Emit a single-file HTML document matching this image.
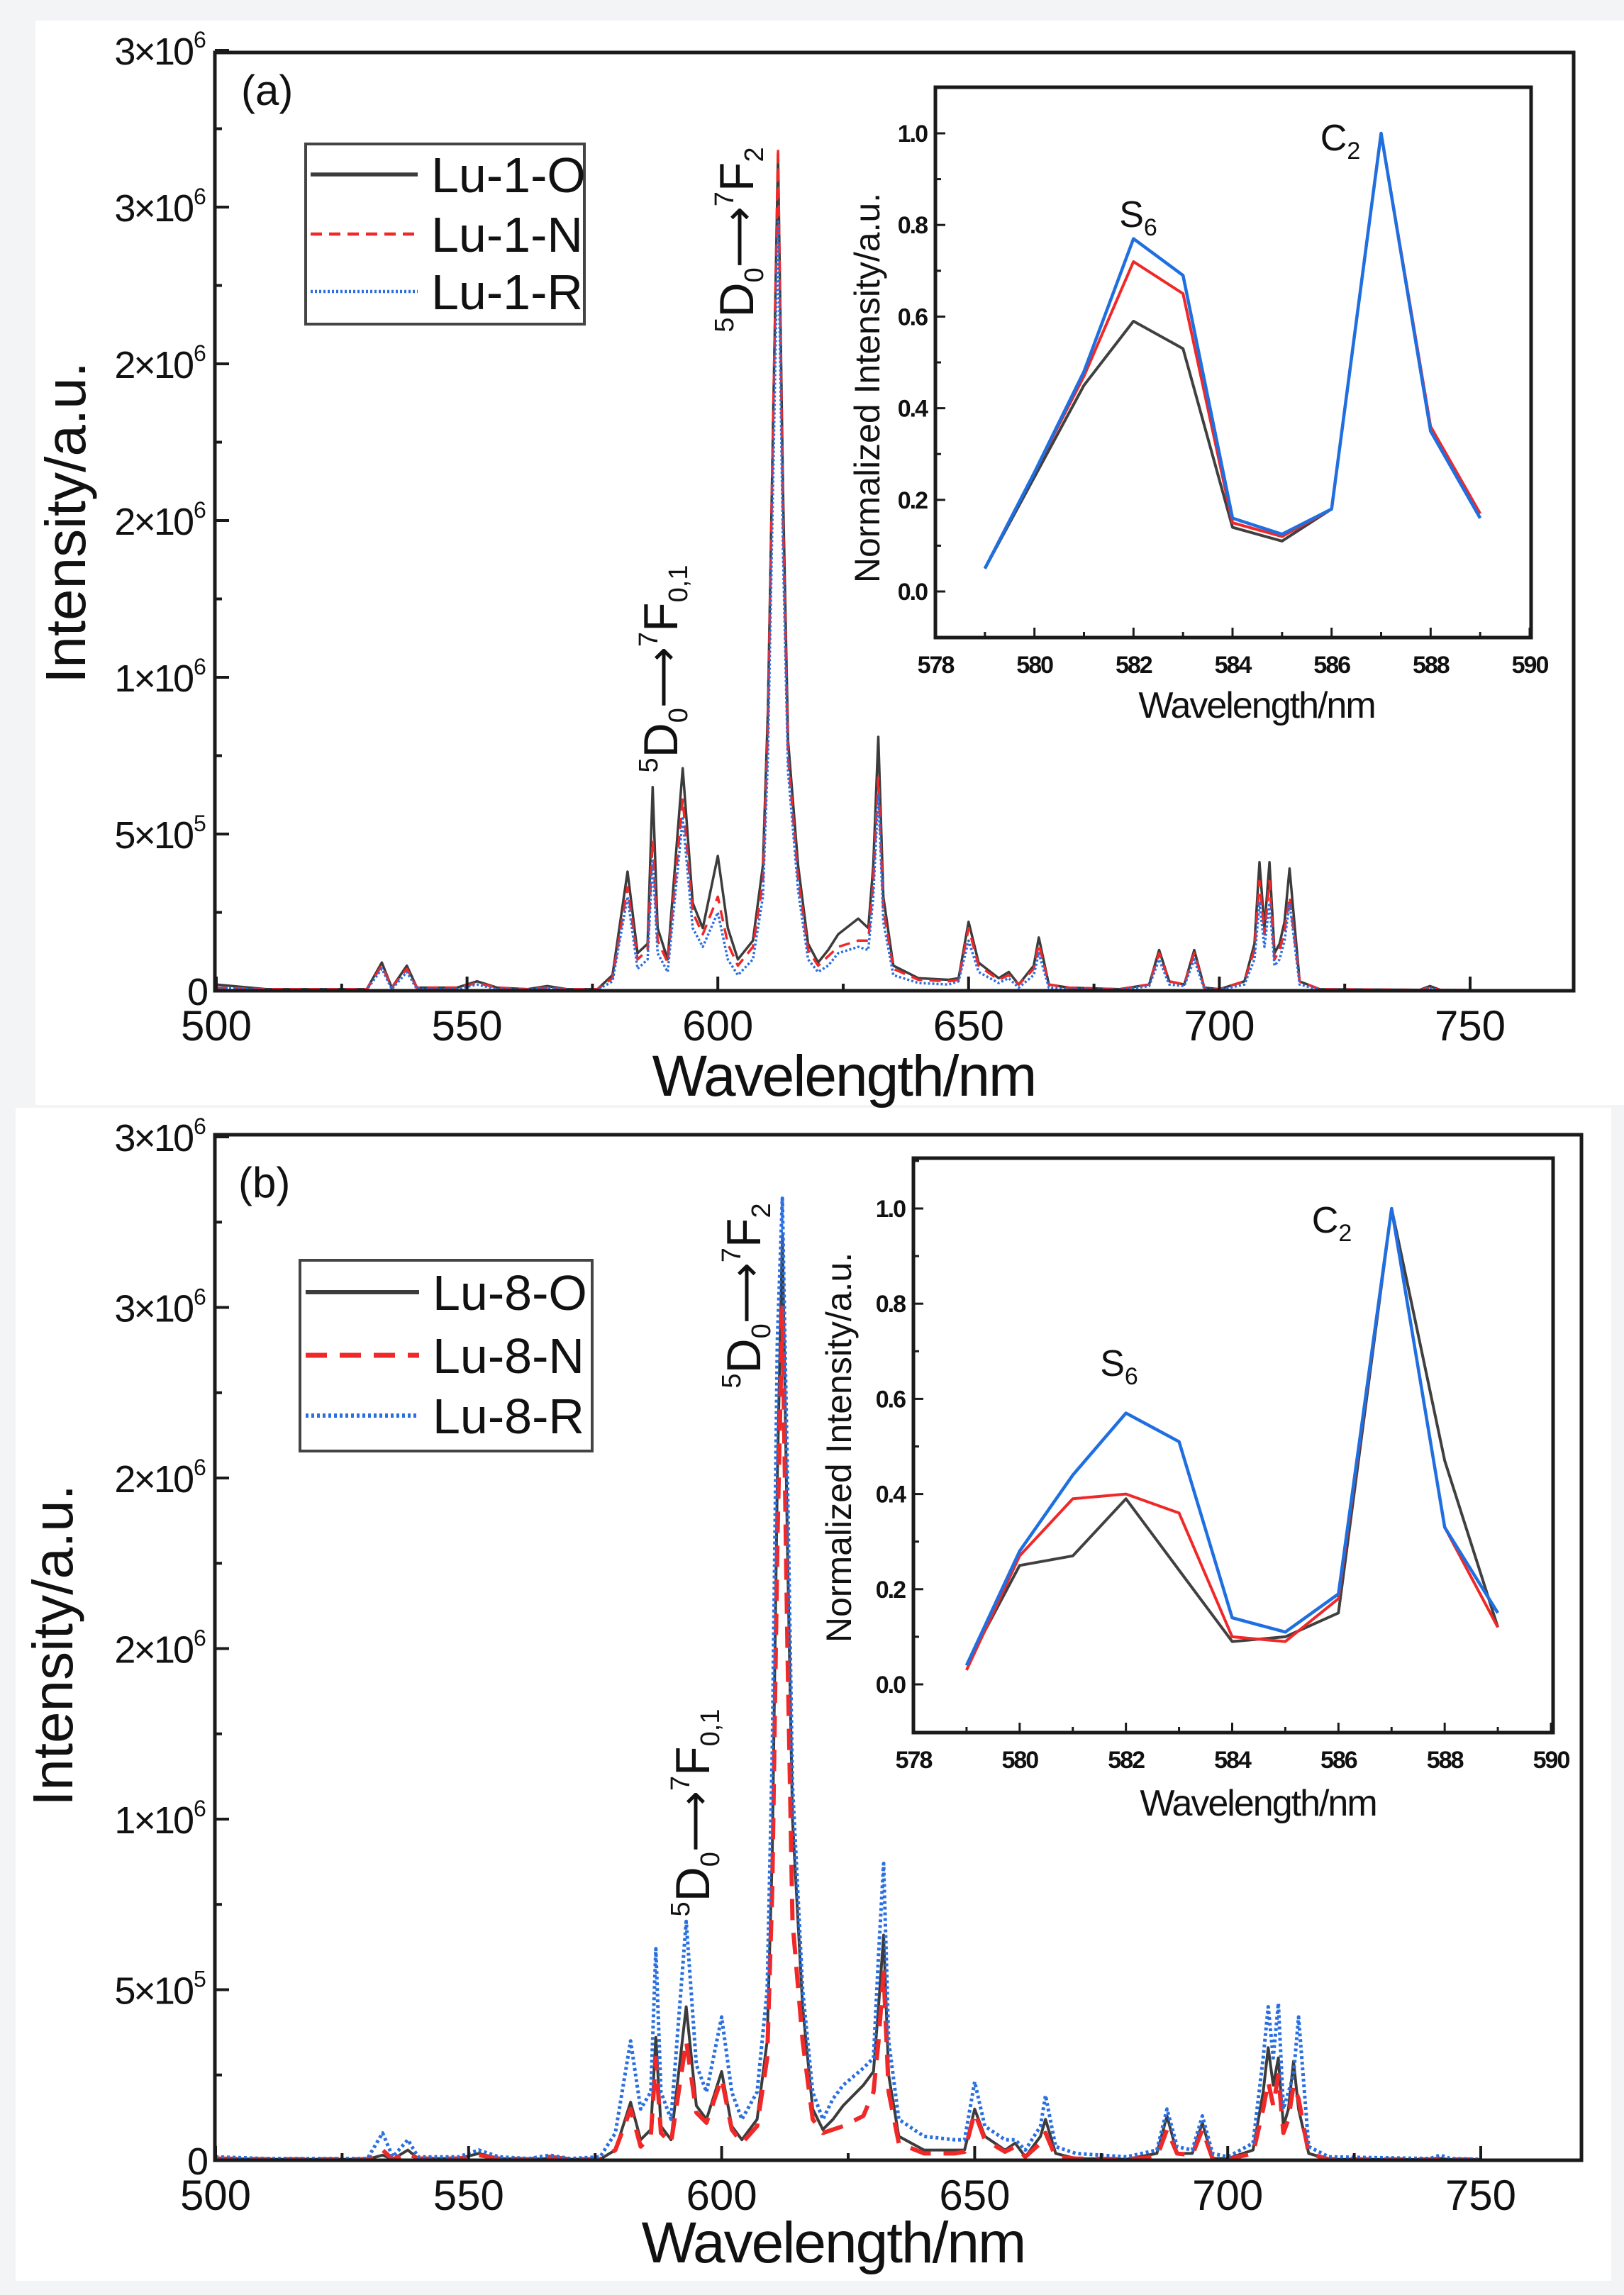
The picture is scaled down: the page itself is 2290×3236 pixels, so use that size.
<!DOCTYPE html>
<html><head><meta charset="utf-8"><style>
html,body{margin:0;padding:0;background:#f3f4f6;}
svg{display:block;font-family:"Liberation Sans",Arial,sans-serif;}
</style></head><body>
<svg id="fig" width="2290" height="3236" viewBox="0 0 2290 3236" xmlns="http://www.w3.org/2000/svg">
<rect x="50" y="29" width="2240" height="1529" fill="#fff"/>
<rect x="22" y="1562" width="2250" height="1654" fill="#fff"/>
<g id="layer"></g>
</svg>
<script>
const wl=[500,510,530,533,535,538,540,548,552,556,562,566,570,576,579,582,584,586,587,588,590,593,595,597,600,602,604,607,609,610,611,612,613,614,616,618,620,622,624,628,630,631,632,633,635,640,646,648,650,652,656,658,660,663,664,666,670,680,686,688,690,693,695,697,700,705,707,708,709,710,711,712,713,714,716,720,740,742,744,750];
const aO=[0.2,0.05,0.05,0.9,0.1,0.8,0.1,0.1,0.3,0.1,0.05,0.15,0.05,0.05,0.5,3.8,1.2,1.5,6.5,2.0,1.0,7.1,2.8,2.0,4.3,2.0,1.0,1.6,4.0,9.0,18,26.7,16,8.0,4.0,1.5,0.9,1.3,1.8,2.3,2.0,4.0,8.1,3.0,0.8,0.4,0.35,0.4,2.2,0.9,0.4,0.6,0.2,0.8,1.7,0.2,0.1,0.05,0.2,1.3,0.3,0.2,1.3,0.1,0.05,0.3,1.5,4.1,2.0,4.1,1.2,1.5,2.2,3.9,0.3,0.05,0.03,0.15,0.03,0.02];
const aN=[0.1,0.05,0.05,0.8,0.1,0.7,0.1,0.1,0.25,0.1,0.05,0.1,0.05,0.05,0.4,3.3,1.0,1.3,4.8,1.6,0.9,6.1,2.5,1.8,3.0,1.5,0.8,1.4,3.5,8.5,18,26.9,15,7.5,3.6,1.3,0.8,1.1,1.4,1.6,1.6,3.5,6.8,2.6,0.7,0.35,0.3,0.35,2.0,0.8,0.35,0.5,0.2,0.7,1.5,0.2,0.1,0.05,0.2,1.2,0.3,0.2,1.2,0.1,0.05,0.3,1.3,3.5,1.8,3.5,1.0,1.3,1.9,3.0,0.3,0.05,0.03,0.1,0.03,0.02];
const aR=[0.1,0.03,0.03,0.7,0.05,0.6,0.05,0.05,0.2,0.05,0.03,0.1,0.03,0.03,0.3,3.0,0.7,1.0,4.2,1.2,0.6,5.5,2.0,1.4,2.5,1.0,0.5,1.0,3.0,7.5,16,24.6,14,7.0,3.2,1.0,0.6,0.8,1.2,1.4,1.3,3.0,6.3,2.2,0.5,0.25,0.2,0.3,1.6,0.6,0.25,0.4,0.1,0.5,1.2,0.1,0.05,0.03,0.15,1.0,0.2,0.15,1.0,0.05,0.03,0.2,1.0,2.8,1.4,2.8,0.8,1.0,1.6,2.8,0.2,0.03,0.02,0.08,0.02,0.02];
const bO=[0.05,0.03,0.03,0.15,0.03,0.3,0.05,0.05,0.2,0.05,0.03,0.05,0.03,0.03,0.3,1.7,0.6,0.9,3.6,1.0,0.6,4.5,1.6,1.2,2.6,1.0,0.6,1.2,3.5,9.0,20,27.1,18,10,4.5,1.5,0.9,1.2,1.6,2.2,2.6,4.5,6.6,2.5,0.7,0.3,0.3,0.3,1.5,0.7,0.3,0.5,0.1,0.7,1.2,0.2,0.05,0.03,0.2,1.3,0.2,0.2,1.1,0.05,0.05,0.3,2.0,3.3,2.2,3.0,1.0,1.5,2.9,1.5,0.2,0.03,0.02,0.05,0.02,0.02];
const bN=[0.05,0.03,0.03,0.3,0.03,0.2,0.05,0.05,0.15,0.05,0.03,0.1,0.03,0.03,0.3,1.5,0.4,0.7,3.0,0.8,0.5,3.5,1.4,1.1,2.4,0.9,0.5,1.0,3.0,8.0,18,25,15,7,3.5,1.2,0.8,0.9,1.0,1.3,2.0,3.5,5.5,2.0,0.5,0.2,0.2,0.25,1.4,0.6,0.25,0.4,0.1,0.5,0.8,0.1,0.05,0.03,0.1,0.9,0.2,0.15,0.9,0.05,0.03,0.2,1.5,2.3,1.6,2.5,0.8,1.2,2.2,1.8,0.2,0.03,0.02,0.05,0.02,0.02];
const bR=[0.1,0.05,0.05,0.8,0.1,0.6,0.1,0.1,0.3,0.1,0.05,0.15,0.05,0.1,0.8,3.5,1.5,2.0,6.2,2.0,1.2,7.0,2.8,2.0,4.2,2.0,1.2,2.0,5,12,24,28.2,20,11,5,2.0,1.2,1.8,2.2,2.7,3.0,6.0,8.7,3.5,1.2,0.7,0.6,0.6,2.3,1.0,0.6,0.6,0.3,1.0,1.9,0.4,0.2,0.1,0.3,1.5,0.4,0.3,1.3,0.2,0.1,0.5,3.0,4.5,3.0,4.6,1.5,2.0,2.5,4.2,0.4,0.1,0.05,0.15,0.05,0.03];
const insWl=[579,580,581,582,583,584,585,586,587,588,589];
const iaO=[0.05,0.25,0.45,0.59,0.53,0.14,0.11,0.18,1.0,0.35,0.16];
const iaN=[0.05,0.26,0.47,0.72,0.65,0.15,0.12,0.18,1.0,0.36,0.17];
const iaR=[0.05,0.26,0.48,0.77,0.69,0.16,0.125,0.18,1.0,0.35,0.16];
const ibO=[0.04,0.25,0.27,0.39,0.24,0.09,0.10,0.15,1.0,0.47,0.12];
const ibN=[0.03,0.27,0.39,0.40,0.36,0.10,0.09,0.18,1.0,0.33,0.12];
const ibR=[0.04,0.28,0.44,0.57,0.51,0.14,0.11,0.19,1.0,0.33,0.15];
const mainYTickVals=[0,5,10,15,20,25,30];
const mainYTickMant=["0","5×10","1×10","2×10","2×10","3×10","3×10"];
const mainYTickExp=["","5","6","6","6","6","6"];
const mainXTicks=[500,550,600,650,700,750];
const insXTicks=[578,580,582,584,586,588,590];
const insYTicks=[0,0.2,0.4,0.6,0.8,1.0];
const insYLabels=["0.0","0.2","0.4","0.6","0.8","1.0"];

const NS="http://www.w3.org/2000/svg";
const layer=document.getElementById('layer');
function mk(tag,attrs,parent){const e=document.createElementNS(NS,tag);for(const k in attrs)e.setAttribute(k,attrs[k]);(parent||layer).appendChild(e);return e;}
function lin(d0,d1,p0,p1){return v=>p0+(v-d0)*(p1-p0)/(d1-d0);}

function drawSeries(xs,ys,X,Y,color,width,dash,name){
  const pts=X.map((v,i)=>xs(v).toFixed(1)+","+ys(Y[i]).toFixed(1)).join(" ");
  const p=mk('polyline',{points:pts,fill:'none',stroke:color,'stroke-width':width,'stroke-linejoin':'round'});
  if(dash)p.setAttribute('stroke-dasharray',dash);
  
  
}

function frame(x0,y0,x1,y1,w,name,fill){
  const r=mk('rect',{x:x0,y:y0,width:x1-x0,height:y1-y0,fill:fill||'none',stroke:'#1a1a1a','stroke-width':w});
  
  
}

function text(x,y,s,size,anchor,name,extra){
  const t=mk('text',Object.assign({x:x,y:y,'font-size':size,'text-anchor':anchor||'middle',fill:'#111'},extra||{}));
  t.textContent=s;
  
  
  return t;
}

function mainPanel(P){
  const xs=lin(500,750,P.x500,P.x750), ys=lin(0,30,P.y0,P.y30);
  // series
  drawSeries(xs,ys,wl,P.O,'#3c3c3c',P.lw,null,P.id+'-series-o');
  drawSeries(xs,ys,wl,P.N,'#f02828',P.lwN,P.dashN,P.id+'-series-n');
  drawSeries(xs,ys,wl,P.R,'#2a6fe0',P.lwR,P.dashR,P.id+'-series-r');
  frame(P.fx0,P.fy0,P.fx1,P.fy1,5,P.id+'-plot-frame');
  // x ticks
  for(let v=500;v<=775;v+=25){const x=xs(v);if(x>P.fx1)break;const L=(v%50===0)?20:10;
    const t=mk('line',{x1:x,y1:P.fy1,x2:x,y2:P.fy1-L,stroke:'#1a1a1a','stroke-width':4});
    }
  mainXTicks.forEach(v=>text(xs(v),P.fy1+70,String(v),60,'middle',P.id+'-x-tick-label'));
  // y ticks
  for(let v=0;v<=30;v+=2.5){const y=ys(v);const L=(v%5===0)?20:10;
    const t=mk('line',{x1:P.fx0,y1:y,x2:P.fx0+L,y2:y,stroke:'#1a1a1a','stroke-width':4});
    }
  mainYTickVals.forEach((v,i)=>{
    const t=text(P.fx0-12-(mainYTickExp[i]?20:0),ys(v)+20,mainYTickMant[i],54,'end',P.id+'-y-tick-label',{'letter-spacing':'-3'});
    if(mainYTickExp[i]){const s=text(P.fx0-30,ys(v)-4,mainYTickExp[i],32,'start',P.id+'-y-tick-exponent');}
  });
  text(P.xlabX,P.xlabY,'Wavelength/nm',82,'middle',P.id+'-x-axis-title',{'letter-spacing':'-2'});
  const yl=text(0,0,'Intensity/a.u.',80,'middle',P.id+'-y-axis-title');
  yl.setAttribute('transform','translate('+P.ylabX+','+P.ylabY+') rotate(-90)');
  text(P.lblX,P.lblY,P.lbl,60,'start',P.id+'-panel-label');
  // legend
  const L=P.leg;
  const box=mk('rect',{x:L.x0,y:L.y0,width:L.x1-L.x0,height:L.y1-L.y0,fill:'#fff',stroke:'#444','stroke-width':4});
  
  const cols=['#3c3c3c','#f02828','#2a6fe0'],ws=[P.lw+2,P.lwN+1,P.lwR+1],ds=[null,P.dashN,P.dashR];
  L.names.forEach((n,i)=>{
    const ln=mk('line',{x1:L.lx0,x2:L.lx1,y1:L.ys[i],y2:L.ys[i],stroke:cols[i],'stroke-width':ws[i]});
    if(ds[i])ln.setAttribute('stroke-dasharray',ds[i]);
    
    text(L.tx,L.ys[i]+25,n,70,'start','legend-entry-'+n.toLowerCase());
  });
  // annotations
  annot(P.an1x,P.an1y,'2',P.id+'-annotation-5d0-7f2');
  annot(P.an2x,P.an2y,'0,1',P.id+'-annotation-5d0-7f01');
}

function annot(x,y,sub,name){
  const t=mk('text',{x:0,y:0,'font-size':68,'text-anchor':'middle',fill:'#111',transform:'translate('+x+','+y+') rotate(-90)'});
  
  const parts=[['5',38,-28],['D',68,28],['0',38,14],['⟶',60,-14],['7',38,-28],['F',68,28],[sub,38,14]];
  parts.forEach(p=>{const s=mk('tspan',{'font-size':p[1],dy:p[2]},t);s.textContent=p[0];});
}

function inset(I){
  const xs=lin(578,590,I.x578,I.x590), ys=lin(0,1,I.y0,I.y1);
  frame(I.fx0,I.fy0,I.fx1,I.fy1,5,I.id+'-frame','#fff');
  drawSeries(xs,ys,insWl,I.O,'#404040',4,null,I.id+'-series-o');
  drawSeries(xs,ys,insWl,I.N,'#f02828',4,null,I.id+'-series-n');
  drawSeries(xs,ys,insWl,I.R,'#1f6fe0',4.5,null,I.id+'-series-r');
  for(let v=578;v<=590;v+=1){const x=xs(v);const L=(v%2===0)?14:8;
    const t=mk('line',{x1:x,y1:I.fy1,x2:x,y2:I.fy1-L,stroke:'#1a1a1a','stroke-width':3});
    }
  insXTicks.forEach(v=>text(xs(v),I.fy1+50,String(v),34,'middle',I.id+'-x-tick-label',{'font-weight':'bold','letter-spacing':'-2'}));
  for(let v=-0.1;v<=1.1;v+=0.1){const y=ys(v);const k=Math.round(v*10);const L=(k%2===0)?14:8;
    const t=mk('line',{x1:I.fx0,y1:y,x2:I.fx0+L,y2:y,stroke:'#1a1a1a','stroke-width':3});
    }
  insYTicks.forEach((v,i)=>text(I.fx0-12,ys(v)+12,insYLabels[i],34,'end',I.id+'-y-tick-label',{'font-weight':'bold','letter-spacing':'-2'}));
  text(I.xlabX,I.xlabY,'Wavelength/nm',52,'middle',I.id+'-x-axis-title',{'letter-spacing':'-2'});
  const yl=text(0,0,'Normalized Intensity/a.u.',50,'middle',I.id+'-y-axis-title');
  yl.setAttribute('transform','translate('+I.ylabX+','+I.ylabY+') rotate(-90)');
  const s=text(I.sX,I.sY,'S',52,'middle',I.id+'-s6-label');const s6=mk('tspan',{'font-size':34,dy:12},s);s6.textContent='6';
  const c=text(I.cX,I.cY,'C',52,'middle',I.id+'-c2-label');const c2=mk('tspan',{'font-size':34,dy:12},c);c2.textContent='2';
}

mainPanel({id:'panel-a',O:aO,N:aN,R:aR,x500:305,x750:2073,y0:1397,y30:71,fx0:303,fy0:74,fx1:2219,fy1:1397,
  lw:3.5,lwN:3.5,lwR:3.5,dashN:'16,10',dashR:'3,3',xlabX:1190,xlabY:1545,ylabX:120,ylabY:737,lblX:340,lblY:148,lbl:'(a)',
  leg:{x0:431,y0:203,x1:824,y1:457,lx0:438,lx1:589,tx:608,ys:[246,330,411],names:['Lu-1-O','Lu-1-N','Lu-1-R']},
  an1x:1062,an1y:338,an2x:955,an2y:943});
mainPanel({id:'panel-b',O:bO,N:bN,R:bR,x500:304,x750:2088,y0:3046,y30:1603,fx0:303,fy0:1600,fx1:2230,fy1:3046,
  lw:4,lwN:6,lwR:5,dashN:'30,18',dashR:'4,4',xlabX:1175,xlabY:3190,ylabX:102,ylabY:2320,lblX:336,lblY:1688,lbl:'(b)',
  leg:{x0:423,y0:1777,x1:835,y1:2046,lx0:431,lx1:591,tx:610,ys:[1822,1911,1996],names:['Lu-8-O','Lu-8-N','Lu-8-R']},
  an1x:1072,an1y:1827,an2x:1000,an2y:2556});
inset({id:'inset-a',O:iaO,N:iaN,R:iaR,x578:1319,x590:2157,y0:834,y1:188,fx0:1319,fy0:123,fx1:2159,fy1:899,
  xlabX:1772,xlabY:1012,ylabX:1240,ylabY:547,sX:1605,sY:320,cX:1890,cY:212});
inset({id:'inset-b',O:ibO,N:ibN,R:ibR,x578:1288,x590:2187,y0:2375,y1:1704,fx0:1288,fy0:1633,fx1:2190,fy1:2443,
  xlabX:1774,xlabY:2560,ylabX:1200,ylabY:2041,sX:1578,sY:1940,cX:1878,cY:1738});
</script>
</body></html>
